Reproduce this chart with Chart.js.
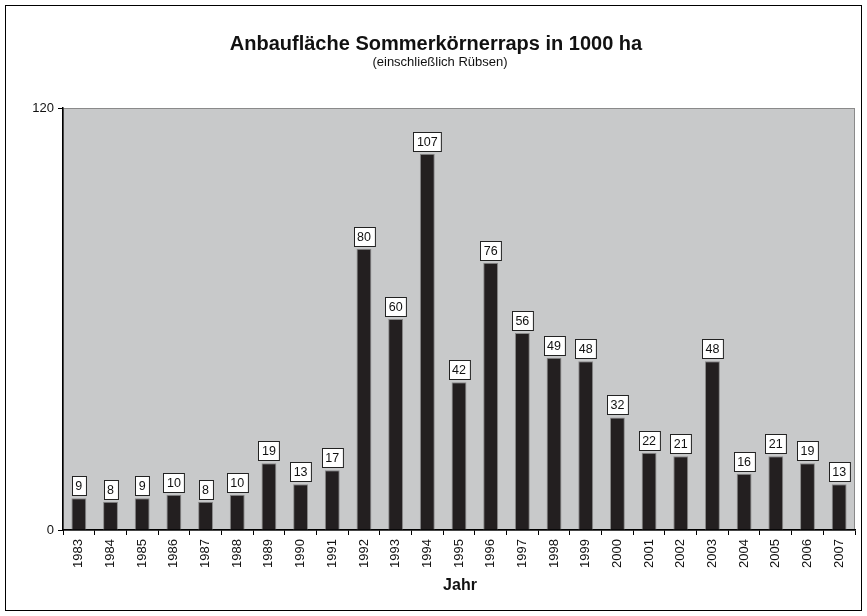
<!DOCTYPE html>
<html><head><meta charset="utf-8">
<script src="https://cdn.jsdelivr.net/npm/chart.js@4/dist/chart.umd.min.js"></script>
<style>html,body{margin:0;padding:0;background:#fff}#wrap{width:867px;height:616px}</style>
</head><body><div id="wrap"><canvas id="c" width="867" height="616"></canvas></div>
<script>
const years = ["1983","1984","1985","1986","1987","1988","1989","1990","1991","1992","1993","1994","1995","1996","1997","1998","1999","2000","2001","2002","2003","2004","2005","2006","2007"];
const area = [9,8,9,10,8,10,19,13,17,80,60,107,42,76,56,49,48,32,22,21,48,16,21,19,13];
const yTicks = [0,120];
const titleText = "Anbaufläche Sommerkörnerraps in 1000 ha";
const subtitleText = "(einschließlich Rübsen)";
const xTitle = "Jahr";

const deco = {
  id:'deco',
  beforeDraw(chart){
    const {ctx, chartArea:a} = chart;
    ctx.save();
    ctx.fillStyle='#fff'; ctx.fillRect(0,0,chart.width,chart.height);
    ctx.fillStyle='#c8c9ca'; ctx.fillRect(a.left,a.top,a.right-a.left,a.bottom-a.top);
    ctx.strokeStyle='#8a8a8a'; ctx.lineWidth=1;
    ctx.strokeRect(a.left+0.5,a.top+0.5,a.right-a.left-1,a.bottom-a.top);
    ctx.strokeStyle='#000';
    ctx.strokeRect(5.5,5.5,856,605);
    ctx.fillStyle='#111'; ctx.textAlign='center'; ctx.textBaseline='middle';
    ctx.font='bold 20px Arial, "Liberation Sans", sans-serif';
    ctx.fillText(titleText,436,44);
    ctx.font='13px Arial, "Liberation Sans", sans-serif';
    ctx.fillText(subtitleText,440,62);
    ctx.font='bold 16px Arial, "Liberation Sans", sans-serif';
    ctx.fillText(xTitle,460,586);
    ctx.restore();
  },
  afterDatasetsDraw(chart){
    const {ctx} = chart;
    const meta = chart.getDatasetMeta(0);
    ctx.save();
    ctx.font='12.5px Arial, "Liberation Sans", sans-serif';
    ctx.textAlign='center'; ctx.textBaseline='middle';
    meta.data.forEach((bar,i)=>{
      const t = String(area[i]);
      const w = ctx.measureText(t).width + 7;
      const h = 19;
      const x = Math.round(bar.x - w/2)+0.5;
      const y = Math.round(bar.y - 3 - h)+0.5;
      ctx.fillStyle='#fff'; ctx.fillRect(x,y,w,h);
      ctx.strokeStyle='#222'; ctx.lineWidth=1; ctx.strokeRect(x,y,w,h);
      ctx.fillStyle='#111'; ctx.fillText(t, bar.x, y+h/2+0.5);
    });
    ctx.restore();
  }
};

new Chart(document.getElementById('c'), {
  type:'bar',
  data:{labels:years, datasets:[{data:area, backgroundColor:'#231f20', borderColor:'#8a8a8a', borderWidth:{top:1,left:1,right:1,bottom:0}, barPercentage:0.47, categoryPercentage:1}]},
  options:{
    responsive:false, animation:false,
    layout:{padding:{top:108,right:12,left:0,bottom:0}},
    plugins:{legend:{display:false}, tooltip:{enabled:false}},
    scales:{
      x:{
        grid:{drawOnChartArea:false, offset:true, color:'#000', tickLength:5, tickWidth:1},
        border:{color:'#000', width:1.5},
        ticks:{color:'#111', font:{size:13, family:'Arial, "Liberation Sans", sans-serif'}, minRotation:90, maxRotation:90, padding:4, autoSkip:false},
        afterFit(s){ s.height = 86; }
      },
      y:{
        min:0, max:120,
        afterBuildTicks(s){ s.ticks = yTicks.map(v=>({value:v})); },
        grid:{drawOnChartArea:false, color:'#000', tickLength:5},
        border:{color:'#000', width:1.5},
        ticks:{color:'#111', font:{size:13, family:'Arial, "Liberation Sans", sans-serif'}, padding:4},
        afterFit(s){ s.width = 63; }
      }
    }
  },
  plugins:[deco]
});
</script></body></html>
